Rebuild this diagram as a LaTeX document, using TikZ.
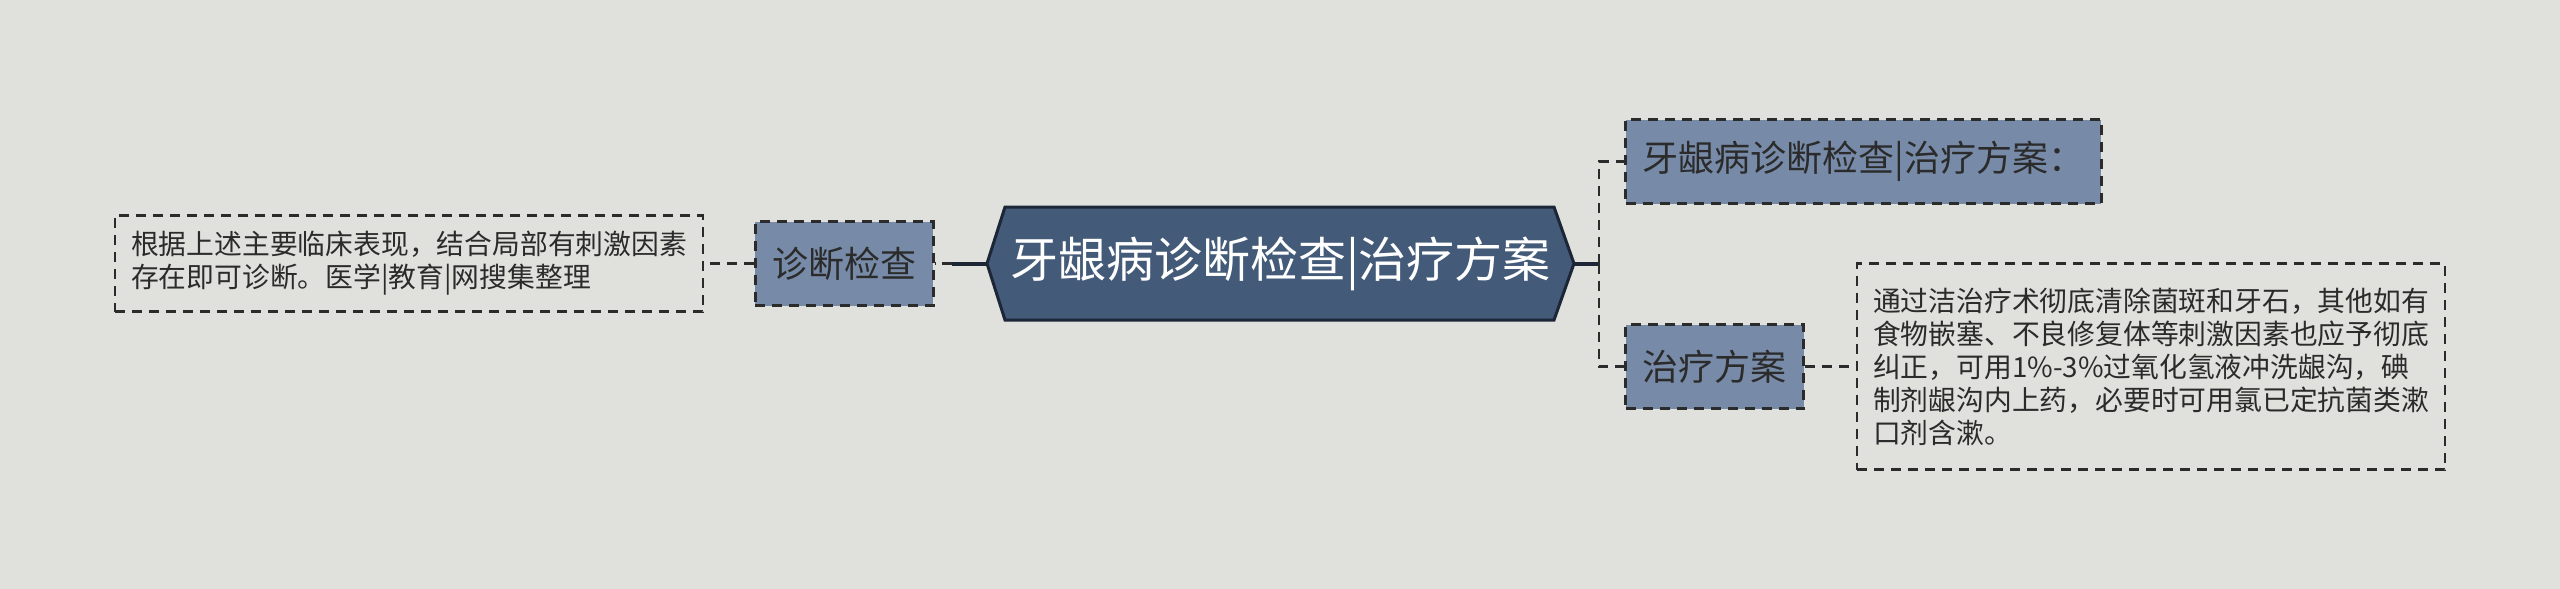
\documentclass[tikz,border=0pt]{standalone}
\usepackage{fontspec}
\newfontfamily\cjk{Noto Sans CJK SC}
\usetikzlibrary{positioning}

\definecolor{bgcol}{HTML}{E0E1DC}
\definecolor{boxcol}{HTML}{778BA8}
\definecolor{hexcol}{HTML}{435A78}
\definecolor{hexline}{HTML}{1C2636}
\definecolor{inkcol}{HTML}{2B2B2B}

\begin{document}
\begin{tikzpicture}[x=0.5pt, y=-0.5pt,
  dashline/.style={draw=inkcol, line width=1.2pt, dash pattern=on 5pt off 3.5pt},
  stubline/.style={draw=hexline, line width=2pt},
  topicbox/.style={dashline, fill=boxcol, text=inkcol, inner xsep=8.5pt,
    minimum height=42pt, font={\cjk\fontsize{18pt}{22pt}\selectfont}},
  notebox/.style={dashline, text=inkcol, align=left, inner xsep=8pt, inner ysep=8pt,
    font={\cjk\fontsize{13.9pt}{16.5pt}\selectfont}}]
  \fill[bgcol] (0,0) rectangle (2560,589);
  \useasboundingbox (0,0) rectangle (2560,589);

  % central topic
  \filldraw[fill=hexcol, draw=hexline, line width=1.5pt]
    (987,263.5) -- (1005,207) -- (1554,207) -- (1574,263.5) -- (1554,320) -- (1005,320) -- cycle;
  \node[minimum width=293.5pt, minimum height=56.5pt, text=white,
    font={\cjk\fontsize{24pt}{28pt}\selectfont}] (root) at (1280.5,263.5) {牙龈病诊断检查|治疗方案};

  % left branch
  \node[topicbox, left=26pt of root] (diag) {诊断检查};
  \node[notebox, left=25pt of diag] (diagnote) {根据上述主要临床表现，结合局部有刺激因素\\存在即可诊断。医学|教育|网搜集整理};

  % right branches
  \node[topicbox, anchor=west] (title) at ([xshift=25pt, yshift=51pt]root.east) {牙龈病诊断检查|治疗方案：};
  \node[topicbox, anchor=west] (treat) at ([xshift=25pt, yshift=-51.5pt]root.east) {治疗方案};
  \node[notebox, right=25.5pt of treat, minimum height=103pt] (treatnote) {通过洁治疗术彻底清除菌斑和牙石，其他如有\\食物嵌塞、不良修复体等刺激因素也应予彻底\\纠正，可用1\%-3\%过氧化氢液冲洗龈沟，碘\\制剂龈沟内上药，必要时可用氯已定抗菌类漱\\口剂含漱。};

  % connectors
  \coordinate (jL) at (952,263.5);
  \coordinate (jR) at (1599,263.5);
  \draw[stubline] (root.west) -- (jL);
  \draw[dashline] (jL) -- (diag.east);
  \draw[dashline] (diag.west) -- (diagnote.east);
  \draw[stubline] (root.east) -- (jR);
  \draw[dashline] (jR) |- (title.west);
  \draw[dashline] (jR) |- (treat.west);
  \draw[dashline] (treat.east) -- (treatnote.west);
\end{tikzpicture}
\end{document}
